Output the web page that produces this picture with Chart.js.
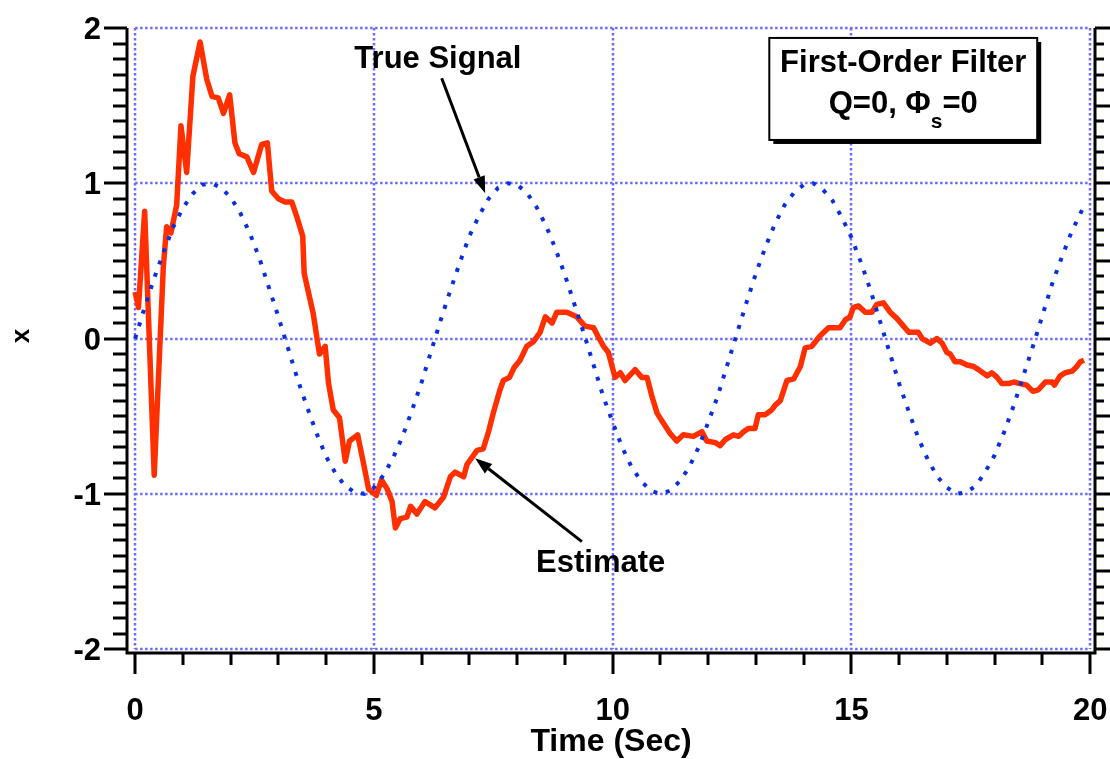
<!DOCTYPE html>
<html><head><meta charset="utf-8">
<script src="https://cdn.jsdelivr.net/npm/chart.js@4.4.1/dist/chart.umd.min.js"></script>
<style>html,body{margin:0;padding:0;background:#fff;overflow:hidden}#wrap{width:1110px;height:759px;position:relative}</style>
</head><body><div id="wrap"><canvas id="c" width="1110" height="759"></canvas></div>
<script>
// ---- data ----
const trueTime = [0,0.2,0.4,0.6,0.8,1.0,1.2,1.4,1.6,1.8,2.0,2.2,2.4,2.6,2.8,3.0,3.2,3.4,3.6,3.8,
  4.0,4.2,4.4,4.6,4.8,5.0,5.2,5.4,5.6,5.8,6.0,6.2,6.4,6.6,6.8,7.0,7.2,7.4,7.6,7.8,
  8.0,8.2,8.4,8.6,8.8,9.0,9.2,9.4,9.6,9.8,10.0,10.2,10.4,10.6,10.8,11.0,11.2,11.4,11.6,11.8,
  12.0,12.2,12.4,12.6,12.8,13.0,13.2,13.4,13.6,13.8,14.0,14.2,14.4,14.6,14.8,15.0,15.2,15.4,15.6,15.8,
  16.0,16.2,16.4,16.6,16.8,17.0,17.2,17.4,17.6,17.8,18.0,18.2,18.4,18.6,18.8,19.0,19.2,19.4,19.6,19.8,19.9];
const trueSignal = [0.00,0.20,0.39,0.56,0.72,0.84,0.93,0.99,1.00,0.97,0.91,0.81,0.68,0.52,0.33,0.14,-0.06,-0.26,-0.44,-0.61,
  -0.76,-0.87,-0.95,-0.99,-1.00,-0.96,-0.88,-0.77,-0.63,-0.46,-0.28,-0.08,0.12,0.31,0.49,0.66,0.79,0.90,0.97,1.00,
  0.99,0.94,0.85,0.73,0.58,0.41,0.22,0.03,-0.17,-0.37,-0.54,-0.70,-0.83,-0.92,-0.98,-1.00,-0.98,-0.92,-0.83,-0.70,
  -0.54,-0.37,-0.17,0.03,0.23,0.42,0.59,0.74,0.86,0.94,0.99,1.00,0.96,0.89,0.78,0.65,0.49,0.31,0.11,-0.09,
  -0.29,-0.47,-0.64,-0.78,-0.89,-0.96,-1.00,-0.99,-0.95,-0.86,-0.75,-0.60,-0.43,-0.24,-0.05,0.15,0.35,0.52,0.68,0.81,0.87];

const estTime = [0.00,0.07,0.20,0.40,0.59,0.66,0.75,0.87,0.96,1.08,1.21,1.36,1.50,1.61,1.74,1.85,1.98,2.09,2.18,2.34,
  2.48,2.65,2.77,2.86,3.00,3.14,3.28,3.39,3.51,3.54,3.73,3.86,3.98,4.05,4.15,4.28,4.40,4.49,4.66,4.78,
  4.89,5.05,5.16,5.28,5.38,5.45,5.55,5.69,5.77,5.90,6.07,6.28,6.46,6.60,6.70,6.88,6.95,7.09,7.16,7.29,
  7.40,7.50,7.64,7.71,7.84,7.93,8.06,8.20,8.34,8.48,8.59,8.73,8.83,9.04,9.25,9.42,9.60,9.70,9.81,9.91,
  10.05,10.16,10.26,10.47,10.61,10.72,10.82,10.93,11.03,11.20,11.34,11.48,11.69,11.87,11.97,12.15,12.25,12.36,12.53,12.64,
  12.74,12.84,12.98,13.05,13.19,13.33,13.40,13.51,13.65,13.79,13.93,14.03,14.17,14.35,14.52,14.76,14.87,14.97,15.04,15.15,
  15.29,15.43,15.53,15.67,15.81,15.95,16.09,16.20,16.40,16.48,16.65,16.79,16.90,17.00,17.07,17.17,17.28,17.42,17.56,17.66,
  17.84,17.94,18.05,18.15,18.29,18.40,18.53,18.67,18.80,18.91,19.06,19.20,19.25,19.37,19.48,19.62,19.72,19.79,19.87];
const estimate = [0.30,0.20,0.82,-0.88,0.46,0.72,0.68,0.86,1.37,1.07,1.69,1.91,1.67,1.56,1.55,1.45,1.57,1.26,1.19,1.17,
  1.07,1.25,1.26,0.95,0.90,0.88,0.88,0.78,0.66,0.42,0.16,-0.10,-0.05,-0.29,-0.46,-0.51,-0.79,-0.66,-0.62,-0.80,
  -0.97,-1.01,-0.91,-0.97,-1.05,-1.22,-1.16,-1.15,-1.08,-1.13,-1.05,-1.09,-1.02,-0.89,-0.86,-0.89,-0.81,-0.75,-0.72,-0.71,
  -0.60,-0.48,-0.33,-0.27,-0.25,-0.19,-0.14,-0.05,-0.02,0.04,0.14,0.10,0.17,0.17,0.14,0.08,0.07,0.01,-0.05,-0.09,
  -0.25,-0.22,-0.27,-0.20,-0.25,-0.25,-0.37,-0.48,-0.53,-0.61,-0.66,-0.62,-0.63,-0.60,-0.66,-0.67,-0.69,-0.65,-0.62,-0.63,
  -0.60,-0.58,-0.58,-0.49,-0.49,-0.46,-0.43,-0.40,-0.27,-0.26,-0.18,-0.06,-0.05,0.02,0.07,0.07,0.12,0.14,0.20,0.21,
  0.17,0.17,0.22,0.23,0.17,0.13,0.08,0.04,0.04,0.00,-0.03,0.00,-0.03,-0.09,-0.10,-0.15,-0.15,-0.17,-0.18,-0.20,
  -0.24,-0.22,-0.25,-0.29,-0.29,-0.28,-0.29,-0.30,-0.34,-0.33,-0.28,-0.28,-0.30,-0.24,-0.22,-0.21,-0.18,-0.15,-0.14];

const xMajorTicks = [0,5,10,15,20];
const yMajorTicks = [-2,-1,0,1,2];
const xTickLabels = ['0','5','10','15','20'];
const yTickLabels = ['-2','-1','0','1','2'];
const xTitle = 'Time (Sec)';
const yTitle = 'x';
const trueLabel = 'True Signal';
const estLabel = 'Estimate';
const boxLine1 = 'First-Order Filter';
const boxLine2a = 'Q=0, \u03A6';
const boxLine2sub = 's';
const boxLine2b = '=0';

// ---- drawing ----
const FONT = '"Liberation Sans", Arial, Helvetica, sans-serif';
function arrow(ctx, x1, y1, x2, y2, len, half) {
  const a = Math.atan2(y2 - y1, x2 - x1);
  const bx = x2 - len * Math.cos(a), by = y2 - len * Math.sin(a);
  ctx.beginPath(); ctx.moveTo(x1, y1); ctx.lineTo(bx, by); ctx.stroke();
  ctx.beginPath();
  ctx.moveTo(x2, y2);
  ctx.lineTo(bx + half * Math.sin(a), by - half * Math.cos(a));
  ctx.lineTo(bx - half * Math.sin(a), by + half * Math.cos(a));
  ctx.closePath(); ctx.fill();
}
const decor = {
  id: 'decor',
  beforeDatasetsDraw(chart) {
    const { ctx, scales: { x, y } } = chart;
    ctx.save();
    ctx.strokeStyle = '#6c6cff'; ctx.lineWidth = 2.5; ctx.setLineDash([2.5, 2.5]);
    const xa = x.getPixelForValue(0), xb = x.getPixelForValue(20);
    const ya = y.getPixelForValue(2), yb = y.getPixelForValue(-2);
    xMajorTicks.forEach(v => { const p = Math.round(x.getPixelForValue(v)); ctx.beginPath(); ctx.moveTo(p, ya); ctx.lineTo(p, yb); ctx.stroke(); });
    yMajorTicks.forEach(v => { const p = Math.round(y.getPixelForValue(v)); ctx.beginPath(); ctx.moveTo(xa, p); ctx.lineTo(xb, p); ctx.stroke(); });
    ctx.restore();
  },
  afterDatasetsDraw(chart) {
    const { ctx, chartArea: ca, scales: { x, y } } = chart;
    ctx.save();
    ctx.strokeStyle = '#000'; ctx.fillStyle = '#000'; ctx.lineWidth = 3; ctx.setLineDash([]);
    // axis lines
    ctx.beginPath();
    ctx.moveTo(ca.left, ca.top); ctx.lineTo(ca.left, ca.bottom); ctx.lineTo(ca.right, ca.bottom); ctx.lineTo(ca.right, ca.top);
    ctx.stroke();
    // y ticks
    for (let k = -20; k <= 20; k++) {
      const p = Math.round(y.getPixelForValue(k / 10));
      const lenL = (k % 10 === 0) ? 23 : 14;
      const lenR = (k % 5 === 0) ? 15 : 9;
      ctx.beginPath(); ctx.moveTo(ca.left - lenL, p); ctx.lineTo(ca.left, p); ctx.stroke();
      ctx.beginPath(); ctx.moveTo(ca.right, p); ctx.lineTo(ca.right + lenR, p); ctx.stroke();
    }
    // x ticks
    for (let k = 0; k <= 20; k++) {
      const p = Math.round(x.getPixelForValue(k));
      const len = (k % 5 === 0) ? 21 : 12;
      ctx.beginPath(); ctx.moveTo(p, ca.bottom); ctx.lineTo(p, ca.bottom + len); ctx.stroke();
    }
    // tick labels
    ctx.font = 'bold 31px ' + FONT;
    ctx.textAlign = 'right'; ctx.textBaseline = 'alphabetic';
    yMajorTicks.forEach((v, i) => ctx.fillText(yTickLabels[i], 101, y.getPixelForValue(v) + 11));
    ctx.textAlign = 'center';
    xMajorTicks.forEach((v, i) => ctx.fillText(xTickLabels[i], x.getPixelForValue(v), 720));
    // titles
    ctx.font = 'bold 32px ' + FONT;
    ctx.fillText(xTitle, (ca.left + ca.right) / 2, 751);
    ctx.save();
    ctx.translate(22, 336); ctx.rotate(-Math.PI / 2);
    ctx.font = 'bold 26px ' + FONT; ctx.textBaseline = 'middle';
    ctx.fillText(yTitle, 0, 0);
    ctx.restore();
    // annotations
    ctx.font = 'bold 31px ' + FONT; ctx.textAlign = 'center'; ctx.textBaseline = 'alphabetic';
    ctx.fillText(trueLabel, x.getPixelForValue(6.34), y.getPixelForValue(1.742));
    ctx.fillText(estLabel, x.getPixelForValue(9.75), y.getPixelForValue(-1.503));
    ctx.lineWidth = 3;
    arrow(ctx, x.getPixelForValue(6.42), y.getPixelForValue(1.676), x.getPixelForValue(7.33), y.getPixelForValue(0.936), 17, 6);
    arrow(ctx, x.getPixelForValue(9.355), y.getPixelForValue(-1.308), x.getPixelForValue(7.12), y.getPixelForValue(-0.771), 17, 6);
    // info box
    const bl = x.getPixelForValue(13.28), br = x.getPixelForValue(18.89);
    const bt = y.getPixelForValue(1.936), bb = y.getPixelForValue(1.279);
    ctx.fillStyle = '#000';
    ctx.fillRect(bl + 4, bt + 4, br - bl, bb - bt);
    ctx.fillStyle = '#fff';
    ctx.fillRect(bl, bt, br - bl, bb - bt);
    ctx.lineWidth = 2; ctx.strokeStyle = '#000';
    ctx.strokeRect(bl, bt, br - bl, bb - bt);
    ctx.fillStyle = '#000';
    const cx = (bl + br) / 2;
    ctx.font = 'bold 31px ' + FONT; ctx.textAlign = 'center';
    ctx.fillText(boxLine1, cx, bt + 34);
    ctx.textAlign = 'left';
    const w1 = ctx.measureText(boxLine2a).width, w3 = ctx.measureText(boxLine2b).width;
    ctx.font = 'bold 21px ' + FONT;
    const w2 = ctx.measureText(boxLine2sub).width;
    let sx = cx - (w1 + w2 + w3) / 2;
    ctx.font = 'bold 31px ' + FONT;
    ctx.fillText(boxLine2a, sx, bt + 75);
    ctx.font = 'bold 21px ' + FONT;
    ctx.fillText(boxLine2sub, sx + w1, bt + 90);
    ctx.font = 'bold 31px ' + FONT;
    ctx.fillText(boxLine2b, sx + w1 + w2, bt + 75);
    ctx.restore();
  }
};

new Chart(document.getElementById('c'), {
  type: 'line',
  data: {
    datasets: [
      { label: trueLabel, data: trueTime.map((t, i) => ({ x: t, y: trueSignal[i] })),
        borderColor: '#0a2fe0', borderWidth: 4, borderDash: [4, 9], pointRadius: 0, tension: 0, fill: false },
      { label: estLabel, data: estTime.map((t, i) => ({ x: t, y: estimate[i] })),
        borderColor: '#ff2f00', borderWidth: 5.5, pointRadius: 0, tension: 0, fill: false, borderJoinStyle: 'round' }
    ]
  },
  options: {
    responsive: false, animation: false, devicePixelRatio: 1,
    layout: { padding: { left: 127, right: 15, top: 28, bottom: 106 } },
    scales: {
      x: { type: 'linear', min: -0.17, max: 20.1, display: false },
      y: { type: 'linear', min: -2.025, max: 2.0, display: false }
    },
    plugins: { legend: { display: false }, tooltip: { enabled: false } }
  },
  plugins: [decor]
});
</script></body></html>
